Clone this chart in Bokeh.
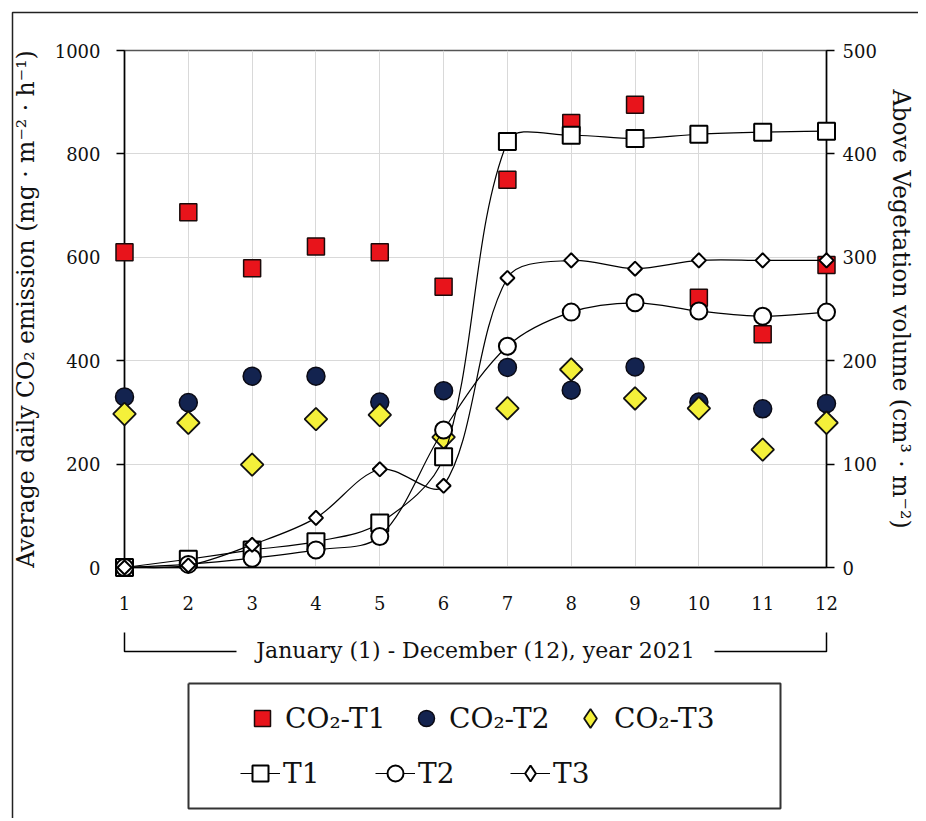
import math
from bokeh.plotting import figure
from bokeh.layouts import column
from bokeh.models import (Range1d, LinearAxis, FixedTicker, Legend, LegendItem, ColumnDataSource)
from bokeh.embed import file_html
from bokeh.resources import INLINE

# ---------------- data ----------------
months = [1, 2, 3, 4, 5, 6, 7, 8, 9, 10, 11, 12]
co2_t1 = [610, 687, 579, 621, 610, 543, 750, 860, 895, 522, 451, 585]
co2_t2 = [330, 319, 370, 370, 320, 342, 387, 343, 388, 320, 307, 317]
co2_t3 = [297, 280, 199, 287, 295, 252, 308, 383, 327, 308, 228, 280]
vol_t1 = [0, 8, 17, 25, 43, 107, 412, 418, 415, 419, 421, 422]
vol_t2 = [0, 3, 9, 17, 30, 133, 214, 247, 256, 248, 243, 247]
vol_t3 = [0, 2, 22, 48, 95, 79, 280, 297, 289, 297, 297, 297]
left_ticks = [0, 200, 400, 600, 800, 1000]
right_ticks = [0, 100, 200, 300, 400, 500]

FONT = "DejaVu Serif"
W = 918
ML, MR, MT = 124, 92, 50
FW, FH = 702, 517
H1 = 681
MB = H1 - MT - FH
H2 = 137
Q_TOP, Q_H = 2, 125   # legend panel frame: page y 683..808


def xd(px):  # pixel offset from frame left -> x data
    return 1 + px * 11.0 / FW


def yd(px):  # pixel offset from frame bottom (up positive) -> left-axis data
    return px * 1000.0 / FH


def smooth_source(xs, ys, ymax):
    # Bezier control points, Catmull-Rom style weighted by on-screen segment lengths
    sx = FW / 11.0
    sy = FH / float(ymax)
    n = len(xs)

    def dist(a, b):
        return math.hypot((xs[a] - xs[b]) * sx, (ys[a] - ys[b]) * sy)

    d = dict(x0=[], y0=[], x1=[], y1=[], cx0=[], cy0=[], cx1=[], cy1=[])
    for i in range(n - 1):
        i0, i3 = max(i - 1, 0), min(i + 2, n - 1)
        d01, d12, d23 = dist(i0, i), dist(i, i + 1), dist(i + 1, i3)
        f1 = d12 / (d01 + d12) / 3.0 if d01 + d12 > 0 else 0
        f2 = d12 / (d12 + d23) / 3.0 if d12 + d23 > 0 else 0
        d["x0"].append(xs[i]); d["y0"].append(ys[i])
        d["x1"].append(xs[i + 1]); d["y1"].append(ys[i + 1])
        d["cx0"].append(xs[i] + (xs[i + 1] - xs[i0]) * f1)
        d["cy0"].append(ys[i] + (ys[i + 1] - ys[i0]) * f1)
        d["cx1"].append(xs[i + 1] - (xs[i3] - xs[i]) * f2)
        d["cy1"].append(ys[i + 1] - (ys[i3] - ys[i]) * f2)
    return ColumnDataSource(d)


# ---------------- main chart ----------------
p = figure(width=W, height=H1, x_range=Range1d(1, 12), y_range=Range1d(0, 1000),
           output_backend="svg", toolbar_location=None,
           min_border_left=ML, min_border_right=MR, min_border_top=MT, min_border_bottom=MB,
           background_fill_color="white", border_fill_color="white")
p.extra_y_ranges = {"right": Range1d(0, 500)}
p.outline_line_color = "#555555"
p.outline_line_width = 1.5

p.xgrid.ticker = FixedTicker(ticks=months)
p.ygrid.ticker = FixedTicker(ticks=left_ticks)
for g in (p.xgrid, p.ygrid):
    g.grid_line_color = "#d9d9d9"
    g.grid_line_width = 1

xa = p.xaxis[0]
xa.ticker = FixedTicker(ticks=months)
xa.axis_label = "January (1) - December (12), year 2021"
xa.axis_label_standoff = 25
xa.major_tick_out = 0
xa.major_tick_in = 0
xa.minor_tick_line_color = None
xa.major_label_standoff = 28

ya = p.yaxis[0]
ya.ticker = FixedTicker(ticks=left_ticks)
ya.axis_label = "Average daily CO₂ emission (mg · m⁻² · h⁻¹)"
ya.axis_label_standoff = 12
ya.major_tick_out = 8
ya.major_tick_in = 0
ya.minor_tick_line_color = None
ya.major_label_standoff = 16

ra = LinearAxis(y_range_name="right", ticker=FixedTicker(ticks=right_ticks),
                axis_label="Above Vegetation volume (cm³ · m⁻²)")
ra.major_tick_out = 8
ra.major_tick_in = 0
ra.minor_tick_line_color = None
ra.major_label_standoff = 8
ra.axis_label_standoff = 7
p.add_layout(ra, "right")

for ax in (xa, ya, ra):
    ax.axis_line_color = "black"
    ax.axis_line_width = 1.5
    ax.major_tick_line_color = "black"
    ax.major_tick_line_width = 1.5
    ax.major_label_text_font = FONT
    ax.major_label_text_font_size = "18px"
    ax.major_label_text_color = "#111111"
    ax.axis_label_text_font = FONT
    ax.axis_label_text_font_size = "23.5px"
    ax.axis_label_text_font_style = "normal"
    ax.axis_label_text_color = "#111111"
xa.axis_label_text_font_size = "22px"

STY = {
    "c1": dict(marker="square", size=17, fill_color="#e8141b", line_color="#1a0a0a", line_width=1.5),
    "c2": dict(marker="circle", size=18, fill_color="#13234f", line_color="#0a0a14", line_width=1.5),
    "c3": dict(marker="square", angle=math.pi / 4, size=16, fill_color="#f4f03a",
               line_color="#111111", line_width=1.8),
    "m1": dict(marker="square", size=17, fill_color="white", line_color="black", line_width=2),
    "m2": dict(marker="circle", size=17, fill_color="white", line_color="black", line_width=2),
    "m3": dict(marker="square", angle=math.pi / 4, size=10, fill_color="white",
               line_color="black", line_width=2),
}
LINE = dict(line_color="black", line_width=1.2)

p.scatter(months, co2_t1, level="overlay", **STY["c1"])
p.scatter(months, co2_t2, level="overlay", **STY["c2"])
p.scatter(months, co2_t3, level="overlay", **STY["c3"])

bz = dict(x0="x0", y0="y0", x1="x1", y1="y1", cx0="cx0", cy0="cy0", cx1="cx1", cy1="cy1")
for vals, mk in ((vol_t1, "m1"), (vol_t2, "m2"), (vol_t3, "m3")):
    p.bezier(**bz, source=smooth_source(months, vals, 500), y_range_name="right",
             level="overlay", **LINE)
    p.scatter(months, vals, y_range_name="right", level="overlay", **STY[mk])

# decorations outside the frame (unclipped overlay lines)
deco = [
    ([1, 1, xd(112)], [yd(-65), yd(-84), yd(-84)], "black", 1.5),
    ([xd(590), 12, 12], [yd(-84), yd(-84), yd(-65)], "black", 1.5),
    ([xd(-112), xd(-112), xd(900)], [yd(-400), yd(555), yd(555)], "#222222", 1.5),
]
for xs_, ys_, col, lw in deco:
    p.line(xs_, ys_, line_color=col, line_width=lw, level="overlay")

# ---------------- legend panel (frame aligned with the chart's frame) ----------------
q = figure(width=W, height=H2, x_range=Range1d(0, 1), y_range=Range1d(0, 1),
           x_axis_type=None, y_axis_type=None, output_backend="svg", toolbar_location=None,
           min_border_left=ML, min_border_right=MR,
           min_border_top=Q_TOP, min_border_bottom=H2 - Q_TOP - Q_H,
           background_fill_color="white", border_fill_color="white")
q.xgrid.visible = False
q.ygrid.visible = False
q.outline_line_color = None


def qx(page_x):
    return (page_x - ML) / float(FW)


# legend box and continuation of the outer border's left edge
q.line([qx(188), qx(780), qx(780), qx(188), qx(188)], [1, 1, 0, 0, 1],
       line_color="#333333", line_width=2, level="overlay")
q.line([qx(12), qx(12)], [-1, 2], line_color="#222222", line_width=1.5, level="overlay")

LEG3 = dict(STY["c3"], marker="diamond", angle=0)
LEGM3 = dict(STY["m3"], marker="diamond", angle=0)
g1 = q.scatter(months, co2_t1, visible=False, **STY["c1"])
g2 = q.scatter(months, co2_t2, visible=False, **STY["c2"])
g3 = q.scatter(months, co2_t3, visible=False, **LEG3)
h1l = q.line(months, vol_t1, visible=False, **LINE)
h1m = q.scatter(months, vol_t1, visible=False, **STY["m1"])
h2l = q.line(months, vol_t2, visible=False, **LINE)
h2m = q.scatter(months, vol_t2, visible=False, **STY["m2"])
h3l = q.line(months, vol_t3, visible=False, **LINE)
h3m = q.scatter(months, vol_t3, visible=False, **LEGM3)

LEG = dict(orientation="horizontal", glyph_width=40, glyph_height=40, label_height=40,
           label_standoff=3, padding=0, margin=0, border_line_color=None,
           background_fill_alpha=0, inactive_fill_alpha=0,
           label_text_font=FONT, label_text_font_size="28px", label_text_color="#111111",
           label_text_baseline="middle")
leg1 = Legend(items=[
    LegendItem(label="CO₂-T1", renderers=[g1]),
    LegendItem(label="CO₂-T2", renderers=[g2]),
], location=(118, 70), label_width=106, spacing=15, **LEG)
leg1b = Legend(items=[LegendItem(label="CO₂-T3", renderers=[g3])],
               location=(442, 66), **dict(LEG, glyph_width=48, glyph_height=48,
                                           label_height=48, label_standoff=0))
leg2 = Legend(items=[
    LegendItem(label="T1", renderers=[h1l, h1m]),
    LegendItem(label="T2", renderers=[h2l, h2m]),
    LegendItem(label="T3", renderers=[h3l, h3m]),
], location=(116, 15), label_width=80, spacing=12, **LEG)
q.add_layout(leg1)
q.add_layout(leg1b)
q.add_layout(leg2)

layout = column(p, q, spacing=0)
open("out.html", "w").write(file_html(layout, INLINE))
